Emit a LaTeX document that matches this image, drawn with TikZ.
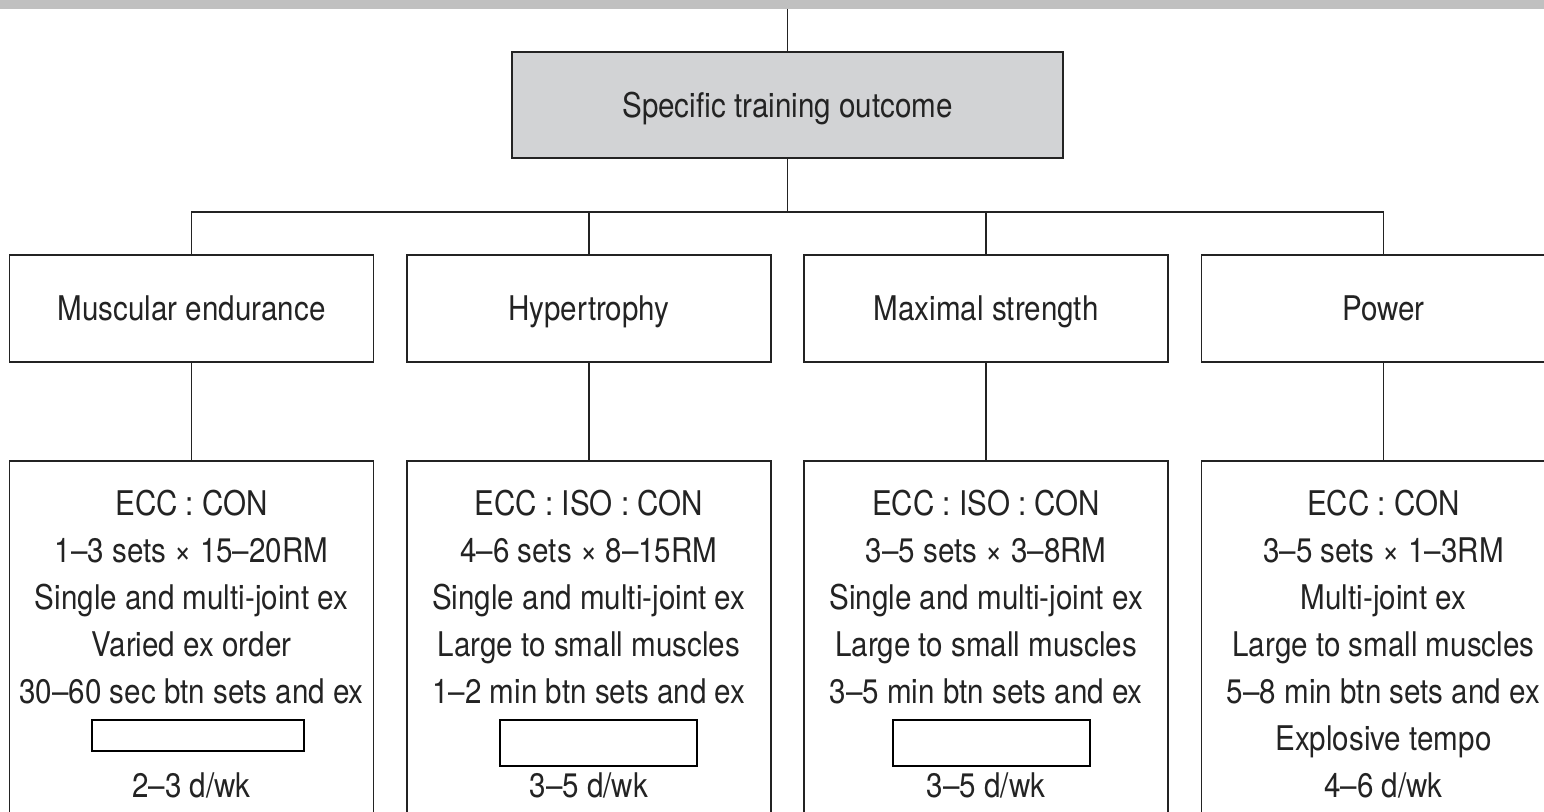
\documentclass[tikz,border=0pt]{standalone}
\usepackage{fontspec}
\setmainfont{TeX Gyre Heros}[FakeStretch=0.87]
\usepackage{tikz}
\usetikzlibrary{trees}
\usetikzlibrary{positioning}
\definecolor{boxgray}{RGB}{210,211,213}
\definecolor{bargray}{RGB}{192,192,192}
\definecolor{inkgray}{RGB}{35,35,35}
\tikzset{
  treenode/.style = {align=center, inner sep=0pt, text centered,
    font=\fontsize{17}{23.5}\selectfont, text=inkgray},
  outcome_node/.style = {treenode, rectangle, draw=inkgray, fill=boxgray,
    line width=0.9pt, minimum width=275.5pt, minimum height=53pt,
    text height=12.2pt, text depth=0pt},
  goal_node/.style = {treenode, rectangle, draw=inkgray, fill=white,
    line width=0.9pt, minimum width=182pt, minimum height=53.5pt,
    text height=12.2pt, text depth=0pt},
  detail_node/.style = {treenode, rectangle, draw=inkgray, line width=0.9pt,
    minimum width=182pt, minimum height=210pt},
  detail_text/.style = {treenode},
  mask_node/.style = {rectangle, draw=black, fill=white, line width=1pt,
    inner sep=0pt}
}
\begin{document}
\begin{tikzpicture}[x=0.5pt, y=-0.5pt,
  edge from parent/.style={draw=inkgray, line width=0.9pt},
  level 1/.style={sibling distance=198.65pt, level distance=101.75pt,
    edge from parent path={(\tikzparentnode.south) -- ++(0,-26.5pt)
      -| (\tikzchildnode.north)}},
  level 2/.style={level distance=181.25pt,
    edge from parent path={(\tikzparentnode.south) -- (\tikzchildnode.north)}}]
  \useasboundingbox (0,0) rectangle (1544,812);
  \clip (0,0) rectangle (1544,812);
  \fill[bargray] (0,0) rectangle (1544,9);
  \coordinate (feed) at (787.5,9);

  \node[outcome_node] (outcome) at (787.5,105) {Specific training outcome}
  child{ node[goal_node] (endur) {Muscular endurance}
    child{ node[detail_node] (endur_d) {} }
  }
  child{ node[goal_node] (hyper) {Hypertrophy}
    child{ node[detail_node] (hyper_d) {} }
  }
  child{ node[goal_node] (maxstr) {Maximal strength}
    child{ node[detail_node] (maxstr_d) {} }
  }
  child{ node[goal_node] (power) {Power}
    child{ node[detail_node] (power_d) {} }
  };
  \draw[inkgray, line width=0.9pt] (feed) -- (outcome);

  % programme details
  \node[detail_text, below=14.9pt of endur_d.north] (endur_t) {ECC : CON\\
    1–3 sets × 15–20RM\\ Single and multi-joint ex\\ Varied ex order\\
    30–60 sec btn sets and ex\\ \mbox{}\\ 2–3 d/wk};
  \node[detail_text, below=14.9pt of hyper_d.north] (hyper_t) {ECC : ISO : CON\\
    4–6 sets × 8–15RM\\ Single and multi-joint ex\\ Large to small muscles\\
    1–2 min btn sets and ex\\ \mbox{}\\ 3–5 d/wk};
  \node[detail_text, below=14.9pt of maxstr_d.north] (maxstr_t) {ECC : ISO : CON\\
    3–5 sets × 3–8RM\\ Single and multi-joint ex\\ Large to small muscles\\
    3–5 min btn sets and ex\\ \mbox{}\\ 3–5 d/wk};
  \node[detail_text, below=14.9pt of power_d.north] (power_t) {ECC : CON\\
    3–5 sets × 1–3RM\\ Multi-joint ex\\ Large to small muscles\\
    5–8 min btn sets and ex\\ Explosive tempo\\ 4–6 d/wk};

  % blanked lines
  \node[mask_node, minimum width=106pt, minimum height=15.5pt] (endur_m) at (198,735.5) {};
  \node[mask_node, minimum width=98.5pt, minimum height=23pt] (hyper_m) at (598.5,743) {};
  \node[mask_node, minimum width=98.5pt, minimum height=23pt] (maxstr_m) at (991.5,743) {};
\end{tikzpicture}
\end{document}
